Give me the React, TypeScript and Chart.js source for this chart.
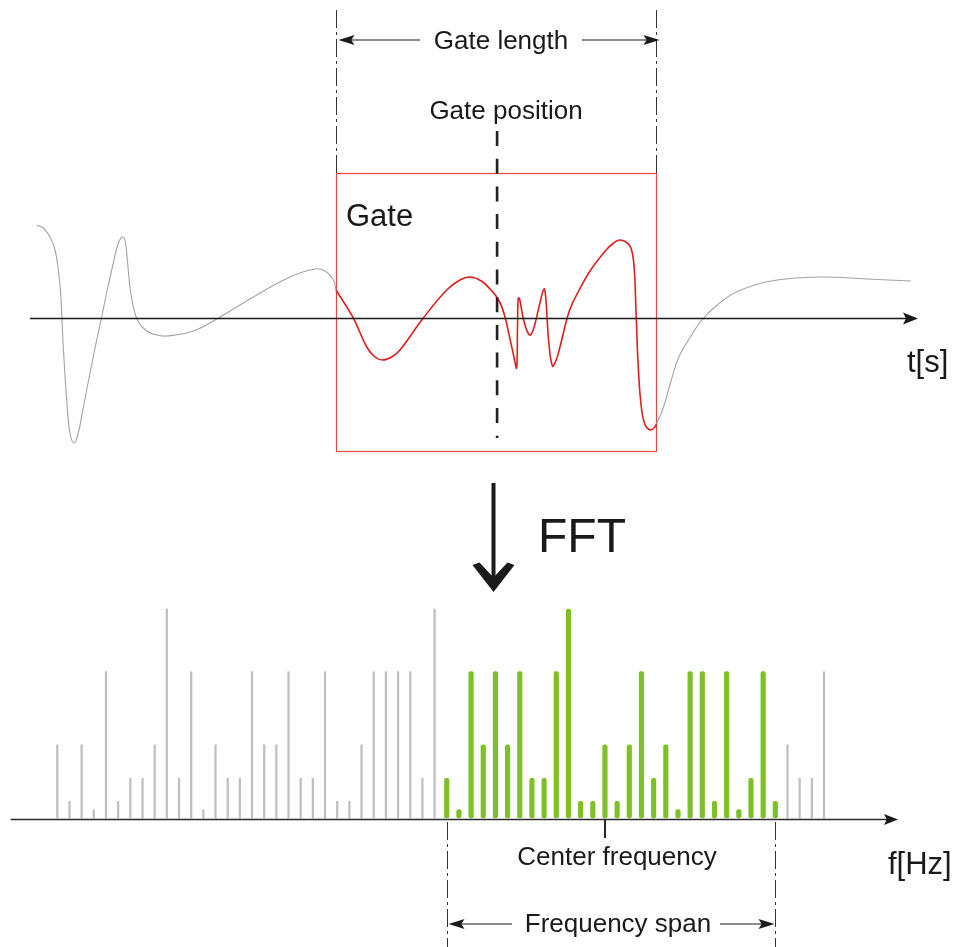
import React, { useEffect, useRef } from "react";
import { Chart, registerables } from "chart.js";

Chart.register(...registerables);

// ---------- DATA ----------
// Time-domain response (t in arbitrary time units, amplitude a)
const preGateT = [0.75, 1.5, 2.25, 2.82, 3.19, 3.45, 3.75, 4.13, 4.5, 4.95, 5.44, 6.01, 6.76, 7.51, 8.07, 8.63, 9.38, 9.95, 10.4, 10.7, 10.96, 11.26, 11.64, 12.2, 13.14, 14.26, 15.39, 18.39, 21.4, 25.15, 29.28, 32.09, 33.22, 34.16, 34.46];
const preGateA = [0.93, 0.9, 0.81, 0.68, 0.48, 0.25, -0.29, -0.82, -1.15, -1.25, -1.15, -0.89, -0.55, -0.22, 0.01, 0.25, 0.55, 0.75, 0.81, 0.78, 0.58, 0.31, 0.11, -0.04, -0.13, -0.17, -0.18, -0.13, 0.01, 0.21, 0.41, 0.49, 0.47, 0.38, 0.28];

const gateT = [34.46, 36.41, 37.92, 38.85, 39.72, 40.73, 41.67, 44.29, 46.92, 48.42, 49.55, 50.84, 51.91, 52.78, 53.43, 54.08, 54.5, 54.8, 54.9, 54.99, 55.16, 55.59, 56.24, 56.67, 57.32, 57.88, 58.1, 58.4, 58.83, 59.26, 59.68, 60.77, 61.85, 63.14, 64.88, 65.73, 66.38, 67.12, 67.68, 68.03, 68.24, 68.46, 68.76, 69.19, 69.84, 70.36, 70.55];
const gateA = [0.28, 0.0, -0.29, -0.39, -0.42, -0.39, -0.32, 0.0, 0.28, 0.38, 0.41, 0.37, 0.28, 0.18, 0.03, -0.22, -0.39, -0.5, -0.09, 0.2, 0.18, -0.02, -0.17, -0.12, 0.11, 0.29, 0.18, -0.22, -0.48, -0.42, -0.29, 0.08, 0.28, 0.48, 0.68, 0.75, 0.78, 0.76, 0.7, 0.51, 0.08, -0.42, -0.82, -1.05, -1.12, -1.09, -1.06];

const postGateT = [70.55, 71.35, 72.22, 73.07, 74.37, 75.66, 77.4, 79.55, 83.44, 89.05, 94.23, 99.2];
const postGateA = [-1.06, -0.89, -0.62, -0.39, -0.19, -0.02, 0.13, 0.26, 0.37, 0.41, 0.39, 0.37];

// Gate parameters (time units)
const gateStart = 34.46;
const gateEnd = 70.55;
const gatePosition = 52.6;

// Spectrum (bin index, normalised magnitude)
const leftBins = [1, 2, 3, 4, 5, 6, 7, 8, 9, 10, 11, 12, 13, 14, 15, 16, 17, 18, 19, 20, 21, 22, 23, 24, 25, 26, 27, 28, 29, 30, 31, 32];
const leftMags = [0.35, 0.08, 0.35, 0.04, 0.7, 0.08, 0.19, 0.19, 0.35, 1.0, 0.19, 0.7, 0.04, 0.35, 0.19, 0.19, 0.7, 0.35, 0.35, 0.7, 0.19, 0.19, 0.7, 0.08, 0.08, 0.35, 0.7, 0.7, 0.7, 0.7, 0.19, 1.0];
const spanBins = [33, 34, 35, 36, 37, 38, 39, 40, 41, 42, 43, 44, 45, 46, 47, 48, 49, 50, 51, 52, 53, 54, 55, 56, 57, 58, 59, 60];
const spanMags = [0.19, 0.04, 0.7, 0.35, 0.7, 0.35, 0.7, 0.19, 0.19, 0.7, 1.0, 0.08, 0.08, 0.35, 0.08, 0.35, 0.7, 0.19, 0.35, 0.04, 0.7, 0.7, 0.08, 0.7, 0.04, 0.19, 0.7, 0.08];
const rightBins = [61, 62, 63, 64];
const rightMags = [0.35, 0.19, 0.19, 0.7];

const spanStartBin = 33;
const spanEndBin = 60;
const centerBin = 46;

// Texts
const TXT_GATE_LENGTH = "Gate length";
const TXT_GATE_POSITION = "Gate position";
const TXT_GATE = "Gate";
const TXT_TIME = "t[s]";
const TXT_FFT = "FFT";
const TXT_CENTER = "Center frequency";
const TXT_SPAN = "Frequency span";
const TXT_FREQ = "f[Hz]";

// ---------- LAYOUT / STYLE ----------
const W = 958;
const H = 947;
const T_PX0 = 30;
const T_PX_PER_UNIT = 8.88;
const AMP_ZERO_PY = 318;
const PX_PER_AMP = 100;
const BIN0_PX = 45.13;
const PX_PER_BIN = 12.17;
const MAG_ZERO_PY = 818;
const PX_PER_MAG = 209;

const FONT = "'Liberation Sans', Arial, Helvetica, sans-serif";
const INK = "#1a1a1a";
const GRAY_WAVE = "#a3a3a3";
const RED = "#e01e1e";
const BOX_RED = "#e4473d";
const GRAY_BAR = "#bfbfbf";
const GREEN = "#7dc127";

const pts = (xs: number[], ys: number[]) => xs.map((x, i) => ({ x, y: ys[i] }));

function arrowHead(ctx: CanvasRenderingContext2D, tx: number, ty: number, dx: number, dy: number, len: number, half: number) {
  const bx = tx - dx * len;
  const by = ty - dy * len;
  const nx = -dy;
  const ny = dx;
  const notch = len * 0.2;
  ctx.beginPath();
  ctx.moveTo(tx, ty);
  ctx.lineTo(bx + nx * half, by + ny * half);
  ctx.lineTo(tx - dx * (len - notch), ty - dy * (len - notch));
  ctx.lineTo(bx - nx * half, by - ny * half);
  ctx.closePath();
  ctx.fill();
}

function line(ctx: CanvasRenderingContext2D, x1: number, y1: number, x2: number, y2: number) {
  ctx.beginPath();
  ctx.moveTo(x1, y1);
  ctx.lineTo(x2, y2);
  ctx.stroke();
}

const annotations = {
  id: "annotations",
  beforeDatasetsDraw(chart: any) {
    const ctx: CanvasRenderingContext2D = chart.ctx;
    const xt = chart.scales.xt;
    const xf = chart.scales.xf;
    ctx.save();
    // gate box
    const gx0 = xt.getPixelForValue(gateStart);
    const gx1 = xt.getPixelForValue(gateEnd);
    ctx.strokeStyle = BOX_RED;
    ctx.lineWidth = 1.2;
    ctx.strokeRect(Math.round(gx0) + 0.5, 173.5, Math.round(gx1 - gx0), 278);

    // gate length guides
    ctx.strokeStyle = "#333";
    ctx.lineWidth = 1;
    ctx.setLineDash([18, 4, 3, 4]);
    line(ctx, Math.round(gx0) + 0.5, 10, Math.round(gx0) + 0.5, 173);
    line(ctx, Math.round(gx1) + 0.5, 10, Math.round(gx1) + 0.5, 173);

    // frequency span guides
    const sx0 = xf.getPixelForValue(spanStartBin);
    const sx1 = xf.getPixelForValue(spanEndBin);
    line(ctx, Math.round(sx0) + 0.5, 822, Math.round(sx0) + 0.5, H);
    line(ctx, Math.round(sx1) + 0.5, 822, Math.round(sx1) + 0.5, H);
    ctx.setLineDash([]);
    ctx.restore();
  },
  afterDatasetsDraw(chart: any) {
    const ctx: CanvasRenderingContext2D = chart.ctx;
    const xt = chart.scales.xt;
    const yt = chart.scales.yt;
    const xf = chart.scales.xf;
    const yf = chart.scales.yf;
    ctx.save();
    ctx.fillStyle = INK;
    ctx.strokeStyle = INK;

    // time axis
    const ty = Math.round(yt.getPixelForValue(0)) + 0.5;
    const tx0 = xt.getPixelForValue(0);
    const tx1 = xt.getPixelForValue(100);
    ctx.lineWidth = 1.3;
    line(ctx, tx0, ty, tx1 - 10, ty);
    arrowHead(ctx, tx1, ty, 1, 0, 15, 6);

    // frequency axis
    const fy = Math.round(yf.getPixelForValue(0)) + 1.5;
    const fx0 = xf.getPixelForValue(-2.83);
    const fx1 = xf.getPixelForValue(70.08);
    ctx.strokeStyle = "#2a2a2a";
    ctx.fillStyle = "#1a1a1a";
    ctx.lineWidth = 1.4;
    line(ctx, fx0, fy, fx1 - 10, fy);
    arrowHead(ctx, fx1, fy, 1, 0, 14, 5.5);

    // center frequency tick
    const cx = Math.round(xf.getPixelForValue(centerBin));
    ctx.lineWidth = 2;
    line(ctx, cx, fy, cx, 838);

    // gate position dashed line
    const gp = xt.getPixelForValue(gatePosition);
    ctx.strokeStyle = "#222";
    ctx.lineWidth = 2.6;
    ctx.setLineDash([15, 12.7]);
    line(ctx, gp, 131, gp, 438);
    ctx.setLineDash([]);

    // gate length arrows
    const gx0 = Math.round(xt.getPixelForValue(gateStart)) + 0.5;
    const gx1 = Math.round(xt.getPixelForValue(gateEnd)) + 0.5;
    ctx.strokeStyle = INK;
    ctx.fillStyle = INK;
    ctx.lineWidth = 1.2;
    line(ctx, gx0 + 8, 40, 420, 40);
    arrowHead(ctx, gx0 + 2, 40, -1, 0, 16, 5);
    line(ctx, 582, 40, gx1 - 6, 40);
    arrowHead(ctx, gx1 + 3, 40, 1, 0, 16, 5);

    // frequency span arrows
    const sx0 = Math.round(xf.getPixelForValue(spanStartBin)) + 0.5;
    const sx1 = Math.round(xf.getPixelForValue(spanEndBin)) + 0.5;
    line(ctx, sx0 + 8, 924, 512, 924);
    arrowHead(ctx, sx0 + 1, 924, -1, 0, 16, 5);
    line(ctx, 720, 924, sx1 - 8, 924);
    arrowHead(ctx, sx1 - 1, 924, 1, 0, 16, 5);

    // FFT arrow
    const ax = 493.5;
    ctx.lineWidth = 4;
    line(ctx, ax, 483, ax, 578);
    ctx.beginPath();
    ctx.moveTo(ax, 592);
    ctx.lineTo(ax - 21, 565);
    ctx.lineTo(ax - 14, 562.5);
    ctx.lineTo(ax, 577.5);
    ctx.lineTo(ax + 14, 562.5);
    ctx.lineTo(ax + 21, 565);
    ctx.closePath();
    ctx.fill();

    // texts
    ctx.fillStyle = INK;
    ctx.textBaseline = "alphabetic";
    ctx.textAlign = "center";
    ctx.font = `26px ${FONT}`;
    ctx.fillText(TXT_GATE_LENGTH, 501, 49);
    ctx.fillText(TXT_GATE_POSITION, 506, 119);
    ctx.fillText(TXT_CENTER, 617, 865);
    ctx.fillText(TXT_SPAN, 618, 932);
    ctx.textAlign = "left";
    ctx.font = `31px ${FONT}`;
    ctx.fillText(TXT_GATE, 346, 226);
    ctx.fillText(TXT_TIME, 907, 372);
    ctx.fillText(TXT_FREQ, 888, 874);
    ctx.font = `48px ${FONT}`;
    ctx.fillText(TXT_FFT, 538, 552);
    ctx.restore();
  },
};

export default function App() {
  const ref = useRef<HTMLCanvasElement | null>(null);

  useEffect(() => {
    const canvas = ref.current;
    if (!canvas) return;
    const lineBase = {
      type: "line" as const,
      xAxisID: "xt",
      yAxisID: "yt",
      pointRadius: 0,
      fill: false,
      tension: 0.4,
    };
    const barBase = {
      type: "bar" as const,
      xAxisID: "xf",
      yAxisID: "yf",
      grouped: false,
      borderWidth: 0,
    };
    const chart = new Chart(canvas, {
      type: "bar",
      data: {
        datasets: [
          { ...lineBase, data: pts(preGateT, preGateA), borderColor: GRAY_WAVE, borderWidth: 1.1 },
          { ...lineBase, data: pts(gateT, gateA), borderColor: RED, borderWidth: 1.6 },
          { ...lineBase, data: pts(postGateT, postGateA), borderColor: GRAY_WAVE, borderWidth: 1.1 },
          { ...barBase, data: pts(leftBins, leftMags), backgroundColor: GRAY_BAR, barThickness: 1.6 },
          { ...barBase, data: pts(rightBins, rightMags), backgroundColor: GRAY_BAR, barThickness: 1.6 },
          { ...barBase, data: pts(spanBins, spanMags), backgroundColor: GREEN, barThickness: 4.5, borderRadius: 2, borderSkipped: false },
        ] as any,
      },
      options: {
        responsive: false,
        animation: false,
        devicePixelRatio: 1,
        events: [],
        layout: { padding: 0 },
        plugins: { legend: { display: false }, tooltip: { enabled: false }, title: { display: false } },
        scales: {
          xt: { type: "linear", display: false, offset: false, axis: "x", min: -T_PX0 / T_PX_PER_UNIT, max: (W - T_PX0) / T_PX_PER_UNIT },
          yt: { type: "linear", display: false, offset: false, axis: "y", min: (AMP_ZERO_PY - H) / PX_PER_AMP, max: AMP_ZERO_PY / PX_PER_AMP },
          xf: { type: "linear", display: false, offset: false, axis: "x", min: -BIN0_PX / PX_PER_BIN, max: (W - BIN0_PX) / PX_PER_BIN },
          yf: { type: "linear", display: false, offset: false, axis: "y", min: (MAG_ZERO_PY - H) / PX_PER_MAG, max: MAG_ZERO_PY / PX_PER_MAG },
        } as any,
      },
      plugins: [annotations],
    });
    return () => chart.destroy();
  }, []);

  return (
    <div style={{ position: "fixed", left: 0, top: 0, width: W, height: H, background: "#fff" }}>
      <canvas ref={ref} width={W} height={H} style={{ display: "block", width: W, height: H }} />
    </div>
  );
}
